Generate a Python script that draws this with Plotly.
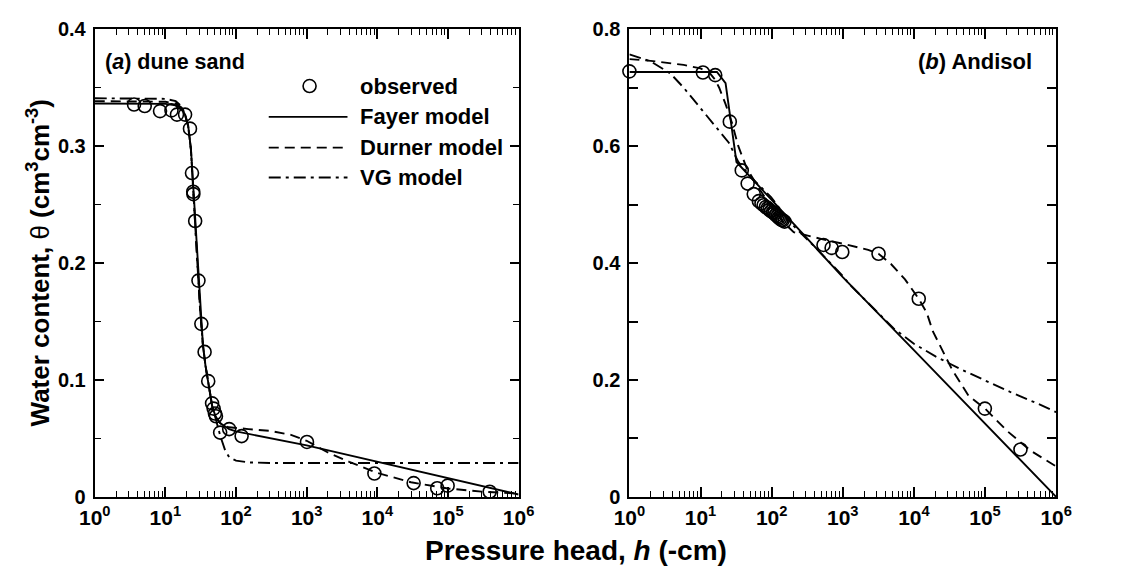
import plotly.graph_objects as go

# ---------------- data: (a) dune sand ----------------
h_obs_a = [3.6, 5.1, 8.4, 12.2, 14.6, 19.0, 22.3, 23.8, 24.8, 24.9, 26.4, 29.4, 32.3, 35.9,
           40.4, 45.8, 48.2, 50.3, 52.0, 59.6, 80, 120, 1010, 9100, 32700, 70500, 99000, 390000]
th_obs_a = [0.3356, 0.3344, 0.330, 0.3306, 0.327, 0.327, 0.315, 0.277, 0.261, 0.259, 0.236,
            0.185, 0.148, 0.124, 0.099, 0.080, 0.0755, 0.0713, 0.069, 0.055, 0.058, 0.052,
            0.047, 0.020, 0.0118, 0.0074, 0.0096, 0.0044]

h_fayer_a = [1, 10, 14, 17, 19, 21, 23, 25, 27, 29, 31, 34, 37, 41, 46, 52, 60, 80, 100,
             1000, 1e4, 1e5, 1e6]
th_fayer_a = [0.3365, 0.3362, 0.335, 0.332, 0.327, 0.318, 0.298, 0.262, 0.222, 0.19, 0.16,
              0.13, 0.112, 0.094, 0.077, 0.068, 0.063, 0.058, 0.056, 0.044, 0.030, 0.0165, 0.002]

h_durner_a = [1, 10, 14, 17, 19, 21, 23, 25, 27, 29, 31, 34, 37, 41, 46, 52, 60, 70, 80, 150,
              300, 600, 1000, 2000, 4000, 1e4, 3e4, 1e5, 3e5, 1e6]
th_durner_a = [0.3385, 0.338, 0.3365, 0.333, 0.327, 0.317, 0.297, 0.262, 0.222, 0.19, 0.16,
               0.13, 0.112, 0.094, 0.078, 0.068, 0.063, 0.0605, 0.0595, 0.058, 0.0565, 0.053,
               0.048, 0.038, 0.030, 0.0205, 0.0125, 0.0072, 0.0045, 0.0028]

h_vg_a = [1, 10, 14, 17, 19, 21, 23, 25, 27, 29, 31, 34, 37, 41, 46, 52, 60, 70, 80, 100, 150,
          300, 1e6]
th_vg_a = [0.341, 0.3405, 0.3385, 0.334, 0.327, 0.317, 0.297, 0.262, 0.222, 0.19, 0.16, 0.13,
           0.112, 0.094, 0.078, 0.066, 0.052, 0.040, 0.034, 0.031, 0.0295, 0.029, 0.029]

# ---------------- data: (b) Andisol ----------------
h_obs_b = [1, 10.8, 16.1, 25.8, 38, 46, 56, 66, 72, 77, 83, 88, 93, 98, 104, 109, 115, 121,
           126, 131, 137, 143, 152, 536, 697, 984, 3185, 11700, 99500, 315000]
th_obs_b = [0.728, 0.726, 0.7215, 0.642, 0.5586, 0.536, 0.518, 0.506, 0.502, 0.499, 0.496,
            0.494, 0.491, 0.489, 0.487, 0.485, 0.482, 0.480, 0.478, 0.476, 0.474, 0.473, 0.471,
            0.431, 0.426, 0.419, 0.416, 0.339, 0.151, 0.081]

h_fayer_b = [1, 17, 22.5, 32, 100, 1000, 1e4, 1e5, 1e6]
th_fayer_b = [0.727, 0.727, 0.708, 0.573, 0.508, 0.376, 0.251, 0.126, 0.0]

h_durner_b = [1, 2, 5.8, 10, 13.3, 16, 18.3, 22.5, 27.8, 34, 44.7, 64.6, 98, 149, 204, 310,
              525, 1100, 2280, 3185, 4800, 7500, 11700, 15100, 18500, 34700, 58600, 1e5,
              2.08e5, 4.33e5, 1e6]
th_durner_b = [0.749, 0.746, 0.739, 0.733, 0.726, 0.714, 0.70, 0.672, 0.639, 0.60, 0.562,
               0.53, 0.497, 0.469, 0.453, 0.447, 0.4406, 0.432, 0.4225, 0.416, 0.398, 0.372,
               0.339, 0.3155, 0.283, 0.217, 0.173, 0.151, 0.112, 0.0795, 0.052]

h_vg_b = [1, 2, 3.8, 5.8, 9.7, 14.8, 25, 34, 52, 98, 184, 426, 1000, 1215, 2800, 5200, 1e4,
          20400, 42700, 1e5, 2.3e5, 5.4e5, 1e6]
th_vg_b = [0.757, 0.745, 0.724, 0.70, 0.667, 0.639, 0.606, 0.573, 0.546, 0.513, 0.469, 0.425,
           0.378, 0.365, 0.321, 0.288, 0.262, 0.24, 0.22, 0.199, 0.179, 0.160, 0.145]

# ticks
x_tickvals = [1, 10, 100, 1000, 1e4, 1e5, 1e6]
x_ticktext = ["10<sup>0</sup>", "10<sup>1</sup>", "10<sup>2</sup>", "10<sup>3</sup>",
              "10<sup>4</sup>", "10<sup>5</sup>", "10<sup>6</sup>"]
ya_tickvals = [0, 0.1, 0.2, 0.3, 0.4]
ya_ticktext = ["0", "0.1", "0.2", "0.3", "0.4"]
yb_tickvals = [0, 0.2, 0.4, 0.6, 0.8]
yb_ticktext = ["0", "0.2", "0.4", "0.6", "0.8"]

legend_names = ["observed", "Fayer model", "Durner model", "VG model"]

W, H = 1147, 581
FONT = "Liberation Sans, Arial, sans-serif"
DASH = "10px,6px"
DASHDOT = "12px,5px,3px,5px"
LW = 1.9


def px(x):
    return x / W


def py(y):
    return 1 - y / H


fig = go.Figure()

for xa, ya, ho, to, hf, tf, hd, td, hv, tv in [
    ("x", "y", h_obs_a, th_obs_a, h_fayer_a, th_fayer_a, h_durner_a, th_durner_a, h_vg_a, th_vg_a),
    ("x2", "y2", h_obs_b, th_obs_b, h_fayer_b, th_fayer_b, h_durner_b, th_durner_b, h_vg_b, th_vg_b),
]:
    fig.add_trace(go.Scatter(x=hv, y=tv, mode="lines", xaxis=xa, yaxis=ya, showlegend=False,
                             line=dict(color="black", width=LW, dash=DASHDOT)))
    fig.add_trace(go.Scatter(x=hd, y=td, mode="lines", xaxis=xa, yaxis=ya, showlegend=False,
                             line=dict(color="black", width=LW, dash=DASH)))
    fig.add_trace(go.Scatter(x=hf, y=tf, mode="lines", xaxis=xa, yaxis=ya, showlegend=False,
                             line=dict(color="black", width=LW)))
    fig.add_trace(go.Scatter(x=ho, y=to, mode="markers", xaxis=xa, yaxis=ya, showlegend=False,
                             cliponaxis=False,
                             marker=dict(symbol="circle-open", size=13, color="black",
                                         line=dict(width=1.6, color="black"))))

xdom_a = [px(81), px(517)]
xdom_b = [px(631), px(1070)]
ydom = [py(505), py(19)]

common_x = dict(type="log", range=[0, 6], tickvals=x_tickvals, ticktext=x_ticktext,
                ticks="inside", ticklen=10, tickwidth=1.5, tickcolor="black",
                showline=True, linewidth=2, linecolor="black", mirror="ticks",
                showgrid=False, zeroline=False, ticklabelstandoff=1,
                tickfont=dict(family=FONT, size=21, color="black", weight="bold"),
                minor=dict(ticks="inside", ticklen=6, tickwidth=1.3, tickcolor="black",
                           dtick="D1", showgrid=False))
common_y = dict(ticks="inside", ticklen=9, tickwidth=1.5, tickcolor="black",
                showline=True, linewidth=2, linecolor="black", mirror="ticks",
                showgrid=False, zeroline=False, ticklabelstandoff=3,
                tickfont=dict(family=FONT, size=20, color="black", weight="bold"))

fig.update_layout(
    width=W, height=H, margin=dict(l=0, r=0, t=0, b=0),
    paper_bgcolor="white", plot_bgcolor="white", showlegend=False,
    font=dict(family=FONT, color="black"),
    xaxis=dict(domain=xdom_a, anchor="y", **common_x),
    yaxis=dict(domain=ydom, anchor="x", range=[0, 0.4], tickvals=ya_tickvals,
               ticktext=ya_ticktext, minor=dict(ticks="inside", ticklen=6, tickwidth=1.3,
                                                tickcolor="black", dtick=0.05, showgrid=False),
               **common_y),
    xaxis2=dict(domain=xdom_b, anchor="y2", **common_x),
    yaxis2=dict(domain=ydom, anchor="x2", range=[0, 0.8], tickvals=yb_tickvals,
                ticktext=yb_ticktext, minor=dict(ticks="inside", ticklen=9, tickwidth=1.5,
                                                 tickcolor="black", dtick=0.1, showgrid=False),
                **common_y),
)

bold = dict(family=FONT, color="black", weight="bold")

ann = [
    dict(x=px(23), y=py(262),
         text="Water content, <span style=\"font-weight:normal\">θ</span> (cm<sup>3</sup>cm<sup>-3</sup>)",
         textangle=-90, font=dict(size=26, **bold)),
    dict(x=px(576), y=py(561), text="Pressure head, <i>h</i> (-cm)",
         font=dict(size=28, **bold)),
    dict(x=px(90), y=py(53), text="(<i>a</i>) dune sand", xanchor="left",
         font=dict(size=21.5, **bold)),
    dict(x=px(1047), y=py(53), text="(<i>b</i>) Andisol", xanchor="right",
         font=dict(size=22, **bold)),
]
leg_y = [78, 110, 142, 173]
for name, yy in zip(legend_names, leg_y):
    ann.append(dict(x=px(352), y=py(yy), text=name, xanchor="left",
                    font=dict(size=22, **bold)))
for a in ann:
    a.update(xref="paper", yref="paper", showarrow=False)
    a.setdefault("xanchor", "center")
    a.setdefault("yanchor", "middle")
fig.update_layout(annotations=ann)

shapes = [
    dict(type="circle", xref="paper", yref="paper", xsizemode="pixel", ysizemode="pixel",
         xanchor=px(302), yanchor=py(leg_y[0]), x0=-6.5, x1=6.5, y0=-6.5, y1=6.5,
         line=dict(color="black", width=1.6)),
]
for yy, dash in zip(leg_y[1:], ["solid", DASH, DASHDOT]):
    shapes.append(dict(type="line", xref="paper", yref="paper", x0=px(260), x1=px(341),
                       y0=py(yy), y1=py(yy), line=dict(color="black", width=LW, dash=dash)))
fig.update_layout(shapes=shapes)

fig.write_html("out.html")
